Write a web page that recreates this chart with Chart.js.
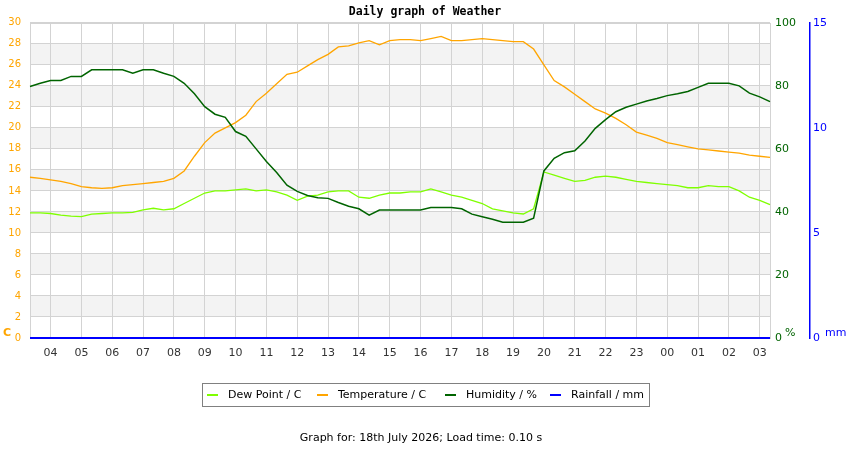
<!DOCTYPE html>
<html>
<head>
<meta charset="utf-8">
<title>Daily graph of Weather</title>
<script src="https://cdn.jsdelivr.net/npm/chart.js@4.4.1/dist/chart.umd.min.js"></script>
<style>
    body { margin: 0; background: #fff; }
    #wrap { position: relative; width: 850px; height: 450px; font-family: "DejaVu Sans", sans-serif; font-size: 11px; color: #000; }
    #weatherChart { position: absolute; left: 0; top: 0; }
    #legend { position: absolute; left: 202px; top: 383px; width: 446px; height: 22px; border: 1px solid #808080; }
    .item { position: absolute; top: 0; height: 22px; line-height: 22px; white-space: nowrap; }
    .sw { display: inline-block; width: 11px; height: 2px; vertical-align: middle; margin-right: 10px; }
    #footer { position: absolute; left: 0; width: 842px; top: 431px; line-height: 14px; text-align: center; }
</style>
</head>
<body>
<div id="wrap">
    <canvas id="weatherChart" width="850" height="450"></canvas>
    <div id="legend"></div>
    <div id="footer">Graph for: 18th July 2026; Load time: 0.10 s</div>
</div>
<script>
// sample times, every 20 minutes from 03:20 to 03:20 next day
const times = [
    '03:20', '03:40', '04:00', '04:20', '04:40', '05:00', '05:20', '05:40', '06:00', '06:20', '06:40', '07:00',
    '07:20', '07:40', '08:00', '08:20', '08:40', '09:00', '09:20', '09:40', '10:00', '10:20', '10:40', '11:00',
    '11:20', '11:40', '12:00', '12:20', '12:40', '13:00', '13:20', '13:40', '14:00', '14:20', '14:40', '15:00',
    '15:20', '15:40', '16:00', '16:20', '16:40', '17:00', '17:20', '17:40', '18:00', '18:20', '18:40', '19:00',
    '19:20', '19:40', '20:00', '20:20', '20:40', '21:00', '21:20', '21:40', '22:00', '22:20', '22:40', '23:00',
    '23:20', '23:40', '00:00', '00:20', '00:40', '01:00', '01:20', '01:40', '02:00', '02:20', '02:40', '03:00',
    '03:20'
];

const dewPoint = [
    11.9, 11.9, 11.85, 11.7, 11.6, 11.55, 11.8, 11.85, 11.9, 11.9, 11.95, 12.2,
    12.35, 12.2, 12.3, 12.8, 13.3, 13.8, 14.0, 14.0, 14.1, 14.2, 14.0, 14.1,
    13.9, 13.6, 13.1, 13.5, 13.6, 13.9, 14.0, 14.0, 13.4, 13.3, 13.6, 13.8,
    13.8, 13.9, 13.9, 14.2, 13.9, 13.6, 13.4, 13.1, 12.8, 12.3, 12.1, 11.9,
    11.8, 12.3, 15.8, 15.5, 15.2, 14.9, 15.0, 15.3, 15.4, 15.3, 15.1, 14.9,
    14.8, 14.7, 14.6, 14.5, 14.3, 14.3, 14.5, 14.4, 14.4, 14.0, 13.4, 13.1,
    12.7
];

const temperature = [
    15.3, 15.2, 15.05, 14.9, 14.7, 14.4, 14.3, 14.25, 14.3, 14.5, 14.6, 14.7,
    14.8, 14.9, 15.2, 15.9, 17.3, 18.6, 19.5, 20.0, 20.5, 21.2, 22.5, 23.3,
    24.2, 25.1, 25.3, 25.9, 26.5, 27.0, 27.7, 27.8, 28.1, 28.3, 27.9, 28.3,
    28.4, 28.4, 28.3, 28.5, 28.7, 28.3, 28.3, 28.4, 28.5, 28.4, 28.3, 28.2,
    28.2, 27.5, 26.0, 24.5, 23.9, 23.2, 22.5, 21.8, 21.4, 20.9, 20.3, 19.6,
    19.3, 19.0, 18.6, 18.4, 18.2, 18.0, 17.9, 17.8, 17.7, 17.6, 17.4, 17.3,
    17.2
];

const humidity = [
    79.8, 80.8, 81.7, 81.7, 83.0, 83.0, 85.1, 85.1, 85.1, 85.1, 84.0, 85.1,
    85.1, 84.0, 83.0, 80.8, 77.5, 73.4, 71.0, 70.0, 65.5, 64.0, 60.0, 56.0,
    52.5, 48.5, 46.5, 45.2, 44.5, 44.3, 43.0, 41.8, 41.0, 39.0, 40.6, 40.6,
    40.6, 40.6, 40.6, 41.4, 41.4, 41.4, 41.0, 39.3, 38.5, 37.7, 36.7, 36.7,
    36.7, 38.0, 53.0, 57.0, 58.8, 59.4, 62.5, 66.5, 69.3, 71.8, 73.2, 74.2,
    75.2, 76.0, 76.9, 77.5, 78.2, 79.5, 80.8, 80.8, 80.8, 80.0, 77.7, 76.5,
    75.0
];

const rainfall = [
    0, 0, 0, 0, 0, 0, 0, 0, 0, 0, 0, 0,
    0, 0, 0, 0, 0, 0, 0, 0, 0, 0, 0, 0,
    0, 0, 0, 0, 0, 0, 0, 0, 0, 0, 0, 0,
    0, 0, 0, 0, 0, 0, 0, 0, 0, 0, 0, 0,
    0, 0, 0, 0, 0, 0, 0, 0, 0, 0, 0, 0,
    0, 0, 0, 0, 0, 0, 0, 0, 0, 0, 0, 0,
    0
];

const series = [
    { label: 'Dew Point / C', data: dewPoint, color: '#7fff00', axis: 'y', width: 1.3, order: 3 },
    { label: 'Temperature / C', data: temperature, color: '#ffa500', axis: 'y', width: 1.3, order: 2 },
    { label: 'Humidity / %', data: humidity, color: '#006400', axis: 'yH', width: 1.5, order: 1 },
    { label: 'Rainfall / mm', data: rainfall, color: '#0000ff', axis: 'yR', width: 2, order: 0 }
];

// only full hours get a label and a grid line
function isHour(i) {
    return times[i] !== undefined && times[i].endsWith(':00');
}

// grey bands every other 2 C step
const bandsPlugin = {
    id: 'bands',
    beforeDraw(chart) {
        const { ctx, chartArea: a, scales: { y } } = chart;
        ctx.save();
        ctx.fillStyle = '#f3f3f3';
        for (let v = 2; v < 30; v += 4) {
            const top = y.getPixelForValue(v + 2);
            const bottom = y.getPixelForValue(v);
            ctx.fillRect(a.left, top, a.right - a.left, bottom - top);
        }
        ctx.restore();
    }
};

// plot frame + unit labels
const framePlugin = {
    id: 'frame',
    beforeDatasetsDraw(chart) {
        const { ctx, chartArea: a } = chart;
        ctx.save();
        ctx.strokeStyle = '#d3d3d3';
        ctx.lineWidth = 1;
        ctx.strokeRect(Math.round(a.left) + 0.5, Math.round(a.top) + 0.5, Math.round(a.right - a.left), Math.round(a.bottom - a.top));
        ctx.restore();
    },
    afterDraw(chart) {
        const { ctx, chartArea: a } = chart;
        ctx.save();
        ctx.textBaseline = 'middle';
        ctx.textAlign = 'left';
        ctx.font = 'bold 11px "DejaVu Sans"';
        ctx.fillStyle = '#ffa500';
        ctx.fillText('C', 3, a.bottom - 5);
        ctx.font = '11px "DejaVu Sans"';
        ctx.fillStyle = '#006400';
        ctx.fillText('%', 785, a.bottom - 5);
        ctx.fillStyle = '#0000ff';
        ctx.fillText('mm', 825, a.bottom - 5);
        ctx.restore();
    }
};

const ctx = document.getElementById('weatherChart').getContext('2d');

new Chart(ctx, {
    type: 'line',
    data: {
        labels: times,
        datasets: series.map(s => ({
            label: s.label,
            data: s.data,
            yAxisID: s.axis,
            borderColor: s.color,
            backgroundColor: s.color,
            borderWidth: s.width,
            pointRadius: 0,
            tension: 0,
            fill: false,
            clip: false,
            order: s.order
        }))
    },
    options: {
        responsive: false,
        animation: false,
        devicePixelRatio: 1,
        layout: { padding: 0 },
        plugins: {
            legend: { display: false },
            tooltip: { enabled: false },
            title: {
                display: true,
                text: 'Daily graph of Weather',
                color: '#000',
                font: { family: 'DejaVu Sans Mono', size: 11.5, weight: 'bold' },
                padding: { top: 5, bottom: 4 }
            }
        },
        scales: {
            x: {
                type: 'category',
                offset: false,
                afterFit(scale) { scale.height = 112; },
                grid: {
                    offset: false,
                    drawTicks: false,
                    color: c => isHour(c.index) ? '#d3d3d3' : 'rgba(0,0,0,0)'
                },
                border: { display: false },
                ticks: {
                    autoSkip: false,
                    maxRotation: 0,
                    padding: 9,
                    color: '#333',
                    font: { family: 'DejaVu Sans', size: 11 },
                    callback: (v, i) => isHour(i) ? times[i].slice(0, 2) : ''
                }
            },
            y: {
                position: 'left',
                min: 0,
                max: 30,
                afterFit(scale) { scale.width = 30; },
                grid: { color: '#d3d3d3', drawTicks: false },
                border: { display: false },
                ticks: {
                    stepSize: 2,
                    padding: 9,
                    color: '#ffa500',
                    font: { family: 'DejaVu Sans', size: 10 }
                }
            },
            yH: {
                position: 'right',
                weight: 0,
                min: 0,
                max: 100,
                afterFit(scale) { scale.width = 40; },
                grid: { display: false, drawTicks: false },
                border: { display: false },
                ticks: {
                    stepSize: 20,
                    padding: 5,
                    color: '#006400',
                    font: { family: 'DejaVu Sans', size: 11 }
                }
            },
            yR: {
                position: 'right',
                weight: 1,
                min: 0,
                max: 15,
                afterFit(scale) { scale.width = 40; },
                grid: { display: false, drawTicks: false },
                border: { display: true, color: '#0000ff', width: 1.5 },
                ticks: {
                    stepSize: 5,
                    padding: 3,
                    color: '#0000ff',
                    font: { family: 'DejaVu Sans', size: 11 }
                }
            }
        }
    },
    plugins: [bandsPlugin, framePlugin]
});

// html legend, same order as the datasets
const legendPos = [4, 114, 242, 347];
const legend = document.getElementById('legend');
series.forEach((s, i) => {
    const item = document.createElement('div');
    item.className = 'item';
    item.style.left = legendPos[i] + 'px';
    item.innerHTML = `<span class="sw" style="background:${s.color}"></span>${s.label}`;
    legend.appendChild(item);
});
</script>
</body>
</html>
